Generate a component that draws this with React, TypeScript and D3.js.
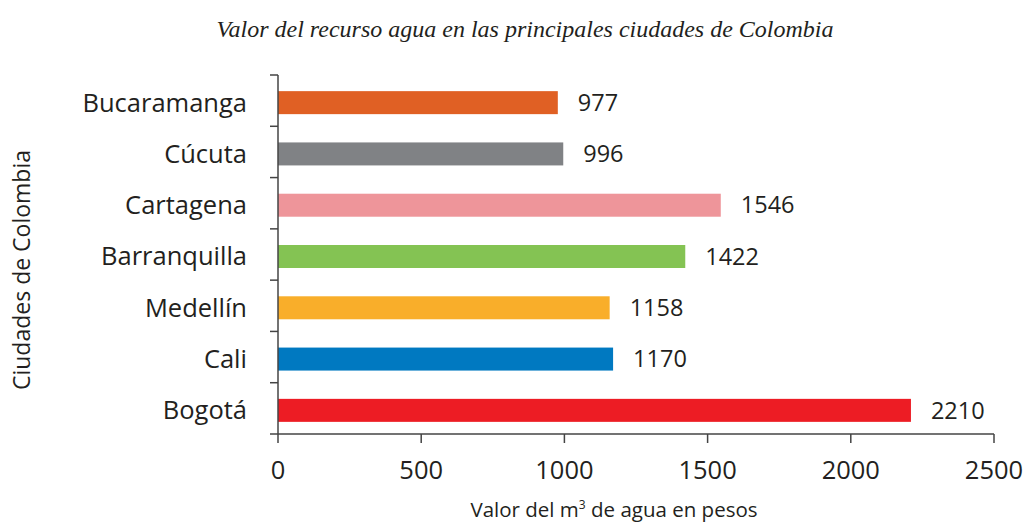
import { useEffect, useRef } from 'react';
import * as d3 from 'd3';

const ciudades = ['Bucaramanga', 'Cúcuta', 'Cartagena', 'Barranquilla', 'Medellín', 'Cali', 'Bogotá'];
const valores = [977, 996, 1546, 1422, 1158, 1170, 2210];
const colores = ['#e06024', '#808285', '#ee959a', '#84c353', '#f9ae2a', '#0079c1', '#ed1c24'];
const xTicks = [0, 500, 1000, 1500, 2000, 2500];

const App = () => {
  const svgRef = useRef<SVGSVGElement>(null);

  useEffect(() => {
    const svg = d3.select(svgRef.current);
    svg.selectAll('*').remove();

    const font = '"Open Sans", "Noto Sans", sans-serif';
    const ink = '#231f20';

    const x = d3.scaleLinear().domain([0, 2500]).range([278, 994]);
    const y = d3.scaleBand().domain(ciudades).range([75, 434]).paddingInner(0).paddingOuter(0);
    const barH = 23;
    const mid = (c: string) => y(c)! + y.bandwidth() / 2 + 2;

    // title
    svg.append('text')
      .attr('x', 525).attr('y', 37)
      .attr('text-anchor', 'middle')
      .attr('font-family', '"Liberation Serif", serif')
      .attr('font-style', 'italic')
      .attr('font-size', 24)
      .attr('fill', ink)
      .text('Valor del recurso agua en las principales ciudades de Colombia');

    // bars
    const rows = ciudades.map((c, i) => ({ c, v: valores[i], col: colores[i] }));
    svg.selectAll('rect.bar')
      .data(rows)
      .enter()
      .append('rect')
      .attr('x', x(0))
      .attr('y', d => mid(d.c) - barH / 2)
      .attr('width', d => x(d.v) - x(0))
      .attr('height', barH)
      .attr('fill', d => d.col);

    // value labels
    svg.selectAll('text.val')
      .data(rows)
      .enter()
      .append('text')
      .attr('x', d => x(d.v) + 20)
      .attr('y', d => mid(d.c))
      .attr('dy', '0.35em')
      .attr('font-family', font)
      .attr('font-size', 23.5)
      .attr('fill', ink)
      .text(d => d.v);

    // category labels
    svg.selectAll('text.cat')
      .data(rows)
      .enter()
      .append('text')
      .attr('x', 247)
      .attr('y', d => mid(d.c))
      .attr('dy', '0.35em')
      .attr('text-anchor', 'end')
      .attr('font-family', font)
      .attr('font-size', 25.5)
      .attr('fill', ink)
      .text(d => d.c);

    // y axis
    const yEdges = d3.range(ciudades.length + 1).map(i => 75 + i * y.step());
    svg.append('line')
      .attr('x1', 278).attr('x2', 278).attr('y1', 75).attr('y2', 434)
      .attr('stroke', '#444').attr('stroke-width', 1.5);
    svg.selectAll('line.yt')
      .data(yEdges)
      .enter()
      .append('line')
      .attr('x1', 270).attr('x2', 278)
      .attr('y1', d => d).attr('y2', d => d)
      .attr('stroke', '#444').attr('stroke-width', 1.5);

    // x axis
    svg.append('line')
      .attr('x1', 278).attr('x2', 994).attr('y1', 434).attr('y2', 434)
      .attr('stroke', '#444').attr('stroke-width', 1.5);
    svg.selectAll('line.xt')
      .data(xTicks)
      .enter()
      .append('line')
      .attr('x1', d => x(d)).attr('x2', d => x(d))
      .attr('y1', 434).attr('y2', 443)
      .attr('stroke', '#444').attr('stroke-width', 1.5);
    svg.selectAll('text.xl')
      .data(xTicks)
      .enter()
      .append('text')
      .attr('x', d => x(d))
      .attr('y', 479)
      .attr('text-anchor', 'middle')
      .attr('font-family', font)
      .attr('font-size', 25.5)
      .attr('fill', ink)
      .text(d => d);

    // axis titles
    const xt = svg.append('text')
      .attr('x', 614).attr('y', 517)
      .attr('text-anchor', 'middle')
      .attr('font-family', font)
      .attr('font-size', 20.5)
      .attr('fill', ink);
    xt.append('tspan').text('Valor del m');
    xt.append('tspan').attr('dy', -8).attr('font-size', 12).text('3');
    xt.append('tspan').attr('dy', 8).text(' de agua en pesos');

    svg.append('text')
      .attr('transform', 'translate(30,270) rotate(-90)')
      .attr('text-anchor', 'middle')
      .attr('font-family', font)
      .attr('font-size', 23)
      .attr('fill', ink)
      .text('Ciudades de Colombia');
  }, []);

  return (
    <svg
      ref={svgRef}
      width={1026}
      height={525}
      style={{ position: 'absolute', left: 0, top: 0, background: '#fff' }}
    />
  );
};

export default App;
